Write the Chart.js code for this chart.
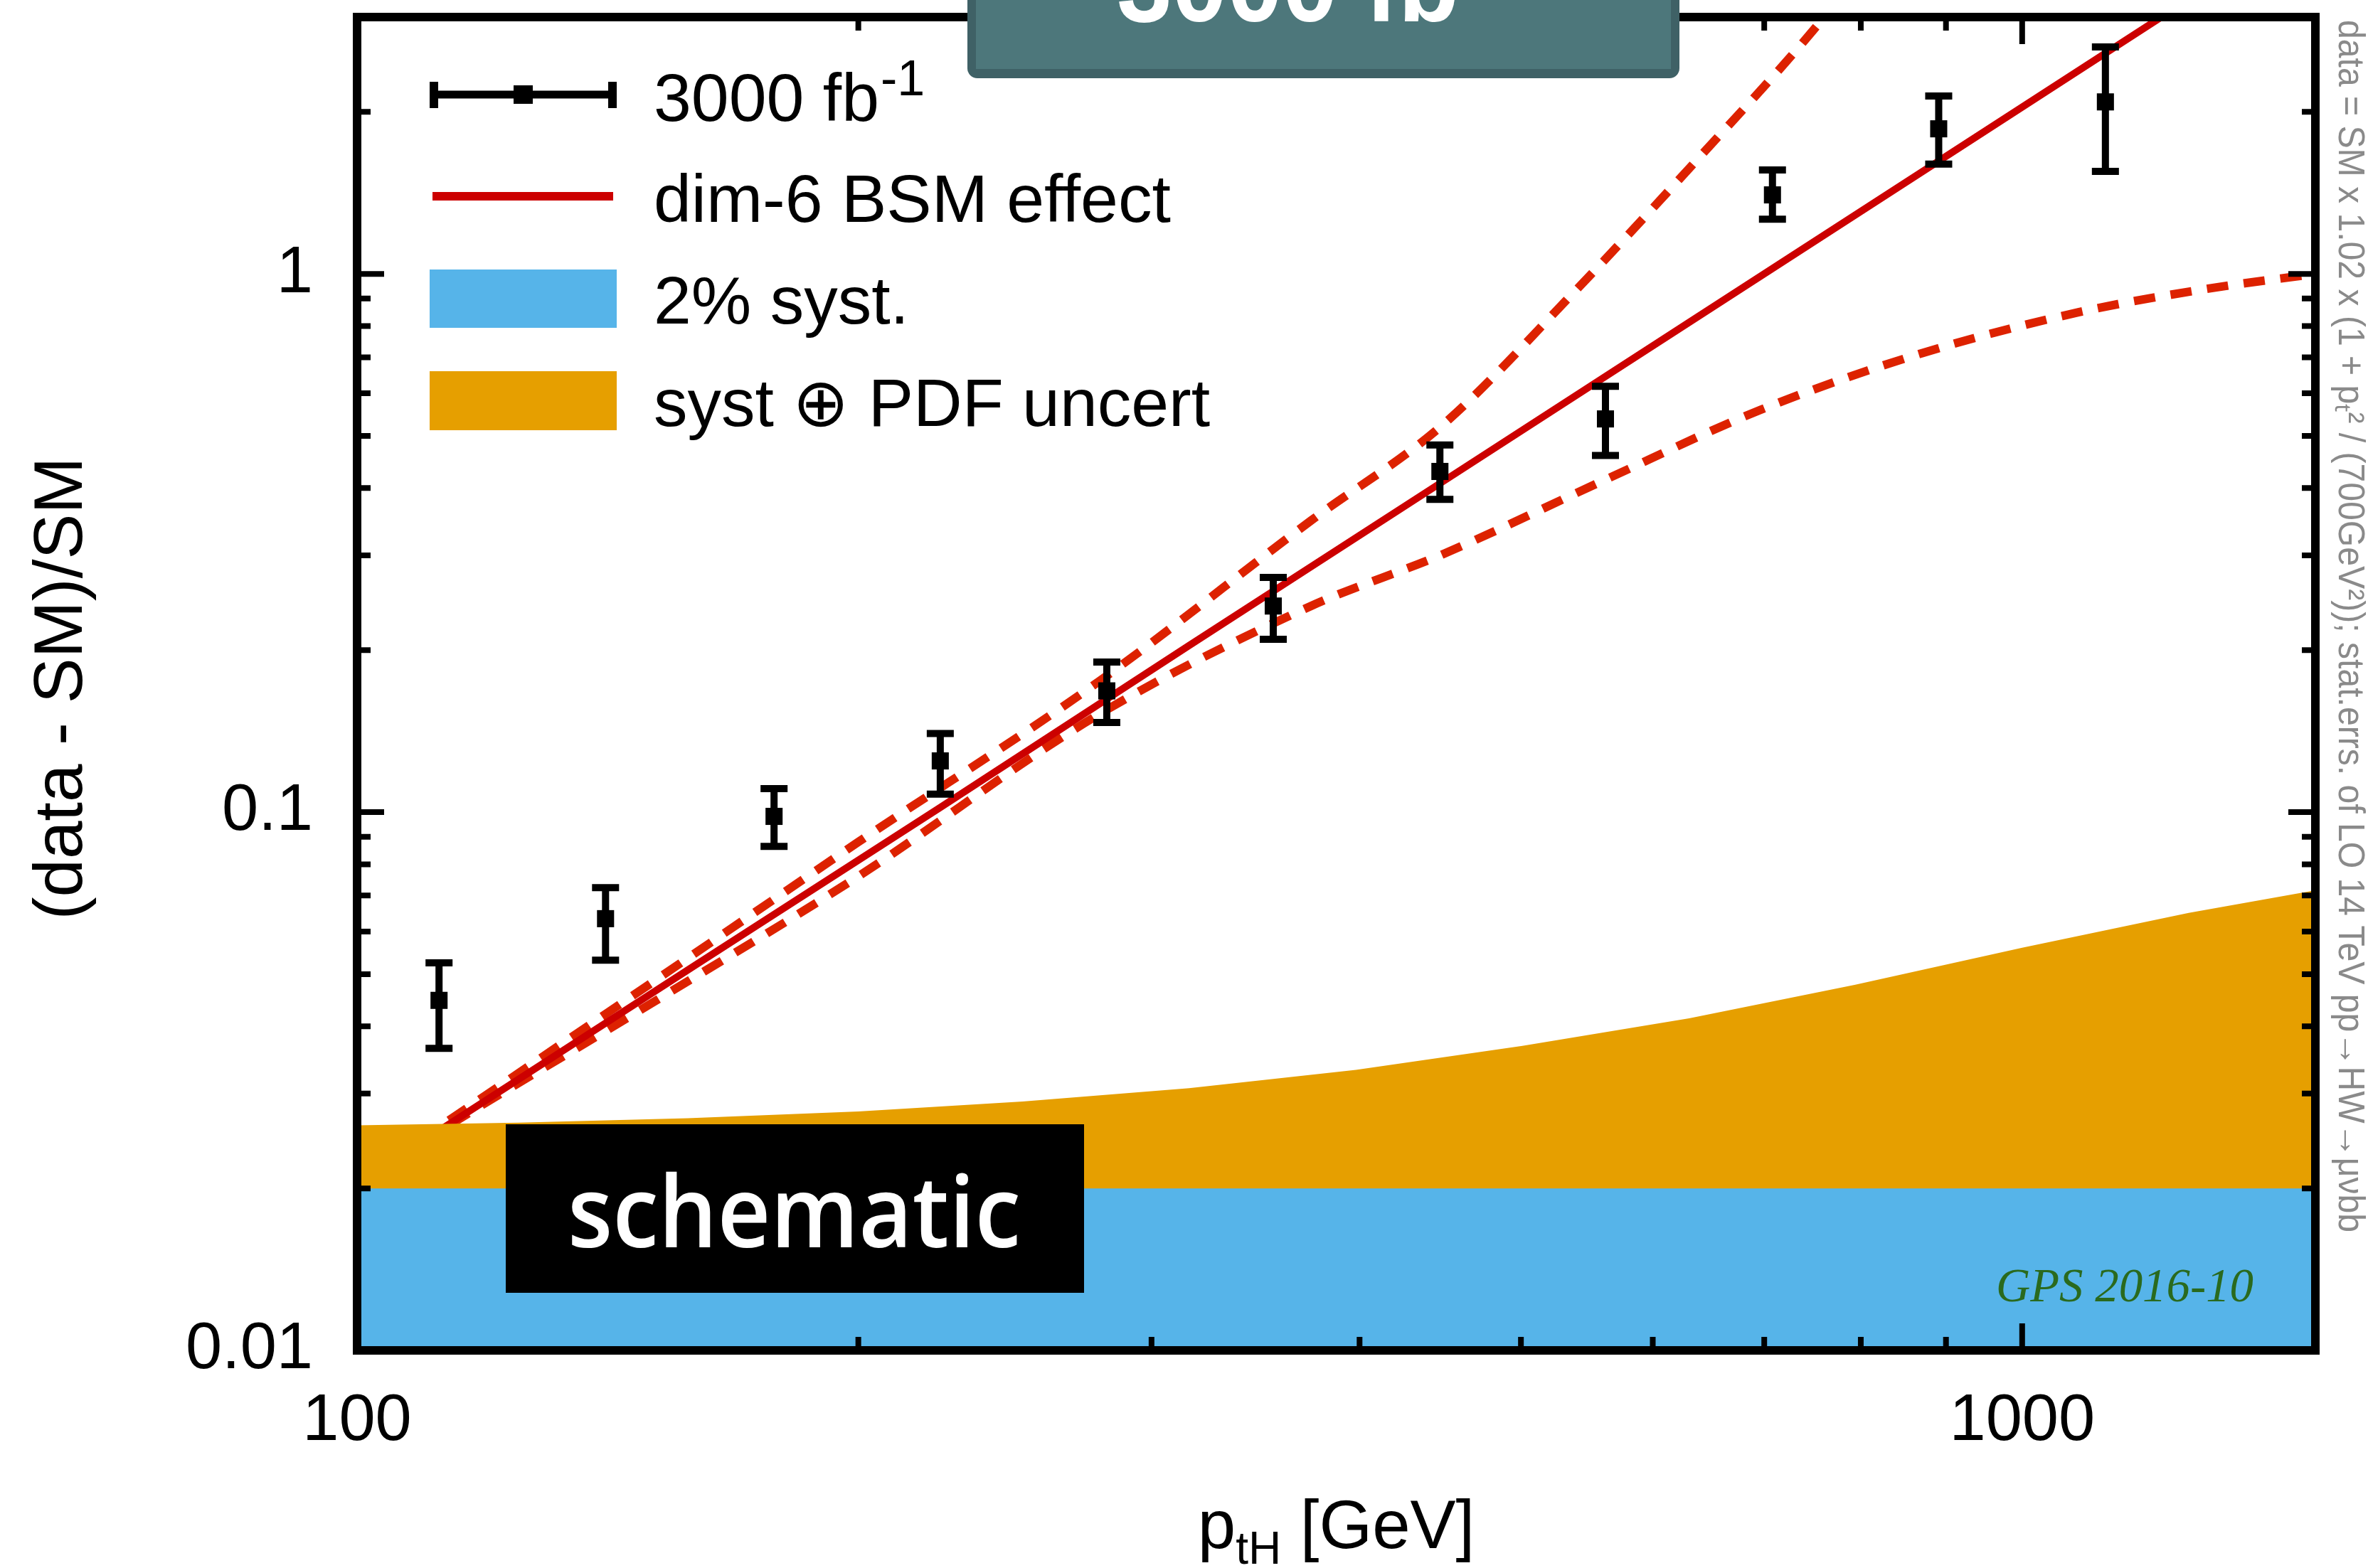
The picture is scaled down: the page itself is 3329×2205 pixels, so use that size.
<!DOCTYPE html>
<html>
<head>
<meta charset="utf-8">
<script src="https://cdn.jsdelivr.net/npm/chart.js@4.4.1/dist/chart.umd.min.js"></script>
<style>
  html, body { margin: 0; padding: 0; background: #fff; }
  #wrap { width: 3329px; height: 2205px; }
</style>
</head>
<body>
<div id="wrap"><canvas id="chart" width="3329" height="2205"></canvas></div>
<script>
// pT bin centres [GeV] and (data - SM)/SM with stat. error band ends
const binPt    = [112, 141, 178, 224, 282, 355, 447, 562, 708, 891, 1122];
const binRatio = [0.0447, 0.0634, 0.0982, 0.1245, 0.168, 0.2415, 0.4295, 0.5377, 1.402, 1.86, 2.087];
const binErrLo = [0.0364, 0.0531, 0.0864, 0.108, 0.1467, 0.2095, 0.381, 0.460, 1.264, 1.60, 1.55];
const binErrHi = [0.0525, 0.0724, 0.1106, 0.140, 0.190, 0.273, 0.481, 0.618, 1.56, 2.14, 2.64];

// dim-6 BSM effect (solid) and the two dashed variants
const bsmPt    = [100, 112, 160, 224, 316, 447, 631, 891, 1250];
const bsmVal   = [0.0204, 0.0256, 0.0522, 0.102, 0.204, 0.408, 0.813, 1.62, 3.19];
const bsmUpPt  = [100, 112, 150, 200, 279, 374, 449, 536, 638, 755, 790];
const bsmUpVal = [0.0205, 0.026, 0.048, 0.088, 0.175, 0.348, 0.525, 0.913, 1.63, 2.92, 3.5];
const bsmLoPt  = [100, 112, 150, 200, 279, 374, 449, 560, 697, 869, 1082, 1291, 1500];
const bsmLoVal = [0.0203, 0.0255, 0.044, 0.076, 0.152, 0.2415, 0.3016, 0.4126, 0.5595, 0.711, 0.849, 0.938, 1.0];

// uncertainty bands (upper edges)
const pdfPt   = [100, 125, 158, 200, 251, 316, 398, 501, 631, 794, 1000, 1259, 1500];
const pdfVal  = [0.0262, 0.0265, 0.0270, 0.0278, 0.0290, 0.0307, 0.0332, 0.0368, 0.0414, 0.0478, 0.0560, 0.0650, 0.0716];
const systPt  = [100, 1500];
const systVal = [0.02, 0.02];

const xTickLabels = [100, 1000];
const yTickLabels = [0.01, 0.1, 1];

const RED = '#cc0000', DASHRED = '#dd2200', BLUE = '#56b4e9', ORANGE = '#e69f00';
const FONT = '"Liberation Sans", Arial, sans-serif';

const pts = (xs, ys) => xs.map((v, i) => ({ x: v, y: ys[i] }));
const isOne = (v, list) => list.find(t => Math.abs(v / t - 1) < 1e-6);

const decor = {
  id: 'decor',
  afterDatasetsDraw(chart) {
    const { ctx, scales: { x, y } } = chart;
    ctx.save();
    // error bars
    ctx.strokeStyle = '#000';
    ctx.lineWidth = 10;
    binPt.forEach((p, i) => {
      const px = x.getPixelForValue(p);
      const y1 = y.getPixelForValue(binErrHi[i]);
      const y2 = y.getPixelForValue(binErrLo[i]);
      ctx.beginPath();
      ctx.moveTo(px, y1); ctx.lineTo(px, y2);
      ctx.moveTo(px - 19, y1); ctx.lineTo(px + 19, y1);
      ctx.moveTo(px - 19, y2); ctx.lineTo(px + 19, y2);
      ctx.stroke();
    });
    // "schematic" stamp
    ctx.fillStyle = '#000';
    ctx.fillRect(711, 1581, 813, 237);
    ctx.fillStyle = '#fff';
    ctx.textAlign = 'left';
    ctx.textBaseline = 'alphabetic';
    ctx.font = '600 140px "Open Sans", sans-serif';
    ctx.fillText('schematic', 798, 1754, 637);
    // GPS tag
    ctx.fillStyle = '#2a6a1e';
    ctx.font = 'italic 67px "Liberation Serif", serif';
    ctx.fillText('GPS 2016-10', 2806, 1830, 362);
    ctx.restore();
  },
  afterDraw(chart) {
    const { ctx, chartArea: a, scales: { x, y } } = chart;
    ctx.save();
    // frame
    ctx.strokeStyle = '#000';
    ctx.lineWidth = 12;
    ctx.strokeRect(a.left, a.top, a.right - a.left, a.bottom - a.top);
    // inward ticks on all four sides
    ctx.lineWidth = 8;
    ctx.beginPath();
    for (let d = -2; d <= 0; d++) {
      for (let m = 1; m <= 9; m++) {
        const v = m * Math.pow(10, d);
        if (v < 0.01 || v > 3) continue;
        const py = y.getPixelForValue(v);
        const len = m === 1 ? 38 : 19;
        ctx.moveTo(a.left, py); ctx.lineTo(a.left + len, py);
        ctx.moveTo(a.right, py); ctx.lineTo(a.right - len, py);
      }
    }
    for (let d = 2; d <= 3; d++) {
      for (let m = 1; m <= 9; m++) {
        const v = m * Math.pow(10, d);
        if (v < 100 || v > 1500) continue;
        const px = x.getPixelForValue(v);
        const len = m === 1 ? 38 : 19;
        ctx.moveTo(px, a.bottom); ctx.lineTo(px, a.bottom - len);
        ctx.moveTo(px, a.top); ctx.lineTo(px, a.top + len);
      }
    }
    ctx.stroke();

    // luminosity banner at the top
    ctx.fillStyle = '#3f6166';
    ctx.beginPath();
    ctx.roundRect(1360, -30, 1001, 140, 14);
    ctx.fill();
    ctx.fillStyle = '#4d777b';
    ctx.fillRect(1372, -30, 977, 127);
    ctx.fillStyle = '#fff';
    ctx.font = 'bold 150px ' + FONT;
    ctx.textBaseline = 'alphabetic';
    ctx.textAlign = 'left';
    ctx.fillText('3000 fb', 1570, 30, 481);
    ctx.font = 'bold 90px ' + FONT;
    ctx.fillText('-1', 2060, -40);

    // legend
    const ds = chart.data.datasets;
    const sx0 = 604, sx1 = 867, tx = 919;
    ctx.font = '95px ' + FONT;
    ctx.fillStyle = '#000';
    // row 1: data points
    ctx.strokeStyle = '#000';
    ctx.lineWidth = 11;
    ctx.beginPath();
    ctx.moveTo(sx0, 133); ctx.lineTo(sx1, 133);
    ctx.stroke();
    ctx.lineWidth = 12;
    ctx.beginPath();
    ctx.moveTo(sx0 + 6, 115); ctx.lineTo(sx0 + 6, 152);
    ctx.moveTo(sx1 - 6, 115); ctx.lineTo(sx1 - 6, 152);
    ctx.stroke();
    ctx.fillRect(722, 120, 27, 26);
    ctx.fillText(ds[5].label, tx, 170);
    ctx.font = '70px ' + FONT;
    ctx.fillText('-1', 1238, 134);
    ctx.font = '95px ' + FONT;
    // row 2: BSM line
    ctx.strokeStyle = ds[2].borderColor;
    ctx.lineWidth = 12;
    ctx.beginPath();
    ctx.moveTo(608, 276); ctx.lineTo(862, 276);
    ctx.stroke();
    ctx.fillText(ds[2].label, tx, 312);
    // rows 3-4: bands
    ctx.fillStyle = ds[1].backgroundColor;
    ctx.fillRect(sx0, 379, sx1 - sx0, 82);
    ctx.fillStyle = ds[0].backgroundColor;
    ctx.fillRect(sx0, 522, sx1 - sx0, 83);
    ctx.fillStyle = '#000';
    ctx.fillText(ds[1].label, tx, 455);
    ctx.fillText(ds[0].label, tx, 599);

    // axis titles
    ctx.font = '96px ' + FONT;
    const w1 = ctx.measureText('p').width;
    const w3 = ctx.measureText(' [GeV]').width;
    ctx.font = '64px ' + FONT;
    const w2 = ctx.measureText('tH').width;
    let cx = (a.left + a.right) / 2 - (w1 + w2 + w3) / 2;
    ctx.font = '96px ' + FONT;
    ctx.fillText('p', cx, 2177);
    ctx.font = '64px ' + FONT;
    ctx.fillText('tH', cx + w1, 2199);
    ctx.font = '96px ' + FONT;
    ctx.fillText(' [GeV]', cx + w1 + w2, 2177);

    ctx.save();
    ctx.translate(115, 968);
    ctx.rotate(-Math.PI / 2);
    ctx.textAlign = 'center';
    ctx.fillText('(data - SM)/SM', 0, 0);
    ctx.restore();

    // side note
    ctx.save();
    ctx.translate(3288, 28);
    ctx.rotate(Math.PI / 2);
    ctx.fillStyle = '#8a8a8a';
    ctx.font = '52px "Liberation Sans Narrow", ' + FONT;
    ctx.textAlign = 'left';
    ctx.fillText('data = SM x 1.02 x (1 + pₜ² / (700GeV²)); stat.errs. of LO 14 TeV pp→HW→μνbb', 0, 0, 1705);
    ctx.restore();

    ctx.restore();
  }
};

new Chart('chart', {
  type: 'line',
  data: {
    datasets: [
      {
        label: 'syst ⊕ PDF uncert',
        data: pts(pdfPt, pdfVal),
        backgroundColor: ORANGE,
        borderWidth: 0,
        pointRadius: 0,
        fill: 'start',
        order: 2
      },
      {
        label: '2% syst.',
        data: pts(systPt, systVal),
        backgroundColor: BLUE,
        borderWidth: 0,
        pointRadius: 0,
        fill: 'start',
        order: 1
      },
      {
        label: 'dim-6 BSM effect',
        data: pts(bsmPt, bsmVal),
        borderColor: RED,
        borderWidth: 10,
        pointRadius: 0,
        fill: false,
        clip: 0,
        order: 3
      },
      {
        label: 'dim-6 upper',
        data: pts(bsmUpPt, bsmUpVal),
        borderColor: DASHRED,
        borderWidth: 12,
        borderDash: [30, 22],
        cubicInterpolationMode: 'monotone',
        pointRadius: 0,
        fill: false,
        clip: 0,
        order: 4
      },
      {
        label: 'dim-6 lower',
        data: pts(bsmLoPt, bsmLoVal),
        borderColor: DASHRED,
        borderWidth: 12,
        borderDash: [30, 22],
        cubicInterpolationMode: 'monotone',
        pointRadius: 0,
        fill: false,
        clip: 0,
        order: 5
      },
      {
        label: '3000 fb',
        type: 'scatter',
        data: pts(binPt, binRatio),
        pointStyle: 'rect',
        pointRadius: 17,
        backgroundColor: '#000',
        borderColor: '#000',
        borderWidth: 0,
        order: 0
      }
    ]
  },
  options: {
    responsive: false,
    animation: false,
    devicePixelRatio: 1,
    layout: { padding: { top: 24, right: 74, left: 0, bottom: 0 } },
    plugins: {
      legend: { display: false },
      tooltip: { enabled: false }
    },
    scales: {
      x: {
        type: 'logarithmic',
        min: 100,
        max: 1500,
        grid: { display: false, drawTicks: false },
        border: { display: false },
        ticks: {
          autoSkip: false,
          maxRotation: 0,
          minRotation: 0,
          padding: 45,
          color: '#000',
          font: { family: 'Liberation Sans', size: 92 },
          callback: v => (isOne(v, xTickLabels) ? String(isOne(v, xTickLabels)) : '')
        },
        afterFit(s) { s.height = 306; s.paddingLeft = 0; s.paddingRight = 0; }
      },
      y: {
        type: 'logarithmic',
        min: 0.01,
        max: 3,
        grid: { display: false, drawTicks: false },
        border: { display: false },
        ticks: {
          autoSkip: false,
          padding: 62,
          color: '#000',
          font: { family: 'Liberation Sans', size: 92 },
          callback: v => (isOne(v, yTickLabels) ? String(isOne(v, yTickLabels)) : '')
        },
        afterFit(s) { s.width = 502; s.paddingTop = 0; s.paddingBottom = 0; }
      }
    }
  },
  plugins: [decor]
});
</script>
</body>
</html>
